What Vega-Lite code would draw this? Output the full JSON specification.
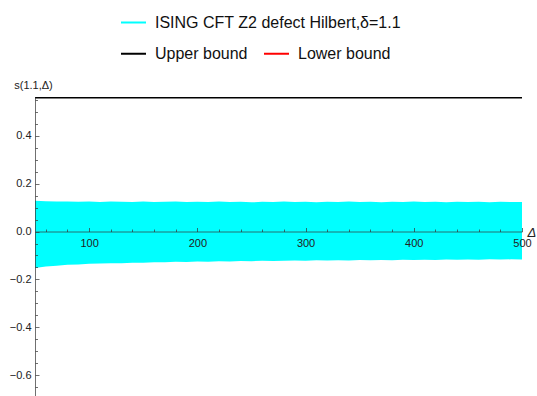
{
  "$schema": "https://vega.github.io/schema/vega-lite/v6.json",
  "width": 487,
  "height": 299,
  "autosize": "none",
  "padding": {"left": 35, "top": 97, "right": 15, "bottom": 0},
  "config": {
    "view": {"stroke": null},
    "font": "Liberation Sans",
    "axis": {"grid": false, "domainColor": "#333333", "domainOpacity": 0.7, "tickColor": "#333333", "tickOpacity": 0.7, "labelColor": "#222222", "labelFontSize": 11, "labelFont": "Liberation Sans", "titleFont": "Liberation Sans", "titleFontWeight": "normal", "titleColor": "#222222"},
    "legend": {"labelFont": "Liberation Sans", "labelFontSize": 16, "labelColor": "#111111", "padding": 0, "labelLimit": 500}
  },
  "encoding": {
    "x": {
      "field": "d", "type": "quantitative",
      "scale": {"domain": [50, 500], "nice": false, "zero": false},
      "axis": {
        "orient": "bottom", "offset": -164.5, "zindex": 2,
        "values": [60, 80, 100, 120, 140, 160, 180, 200, 220, 240, 260, 280, 300, 320, 340, 360, 380, 400, 420, 440, 460, 480, 500],
        "labelExpr": "datum.value % 100 === 0 ? datum.label : ''",
        "labelOverlap": false,
        "tickSize": {"condition": {"test": "datum.value % 100 === 0", "value": -4}, "value": -2.5},
        "labelPadding": 10, "labelFlush": false,
        "title": "Δ", "titleFontStyle": "italic", "titleFontSize": 13,
        "titleX": 492, "titleY": 1, "titleAlign": "left", "titleBaseline": "middle", "titleAngle": 0
      }
    },
    "y": {
      "field": "v", "type": "quantitative",
      "scale": {"domain": [-0.687, 0.562], "nice": false, "zero": false},
      "axis": {
        "orient": "left", "zindex": 2,
        "values": [-0.65, -0.6, -0.55, -0.5, -0.45, -0.4, -0.35, -0.3, -0.25, -0.2, -0.15, -0.1, -0.05, 0, 0.05, 0.1, 0.15, 0.2, 0.25, 0.3, 0.35, 0.4, 0.45, 0.5, 0.55],
        "labelExpr": "abs(round(datum.value*100)) % 20 === 0 ? format(datum.value, '.1f') : ''",
        "labelOverlap": false,
        "tickSize": {"condition": {"test": "abs(round(datum.value*100)) % 20 === 0", "value": -4}, "value": -2.5},
        "labelPadding": 8, "labelFlush": false,
        "title": "s(1.1,Δ)", "titleFontSize": 11,
        "titleX": -2, "titleY": -12, "titleAlign": "center", "titleBaseline": "middle", "titleAngle": 0
      }
    }
  },
  "layer": [
    {
      "data": {"values": [
        {"d": 50, "v": 0.129, "v2": -0.152},
        {"d": 60, "v": 0.127, "v2": -0.146},
        {"d": 70, "v": 0.125, "v2": -0.143},
        {"d": 80, "v": 0.126, "v2": -0.139},
        {"d": 90, "v": 0.124, "v2": -0.138},
        {"d": 100, "v": 0.125, "v2": -0.135},
        {"d": 110, "v": 0.123, "v2": -0.134},
        {"d": 120, "v": 0.125, "v2": -0.132},
        {"d": 130, "v": 0.124, "v2": -0.132},
        {"d": 140, "v": 0.123, "v2": -0.130},
        {"d": 150, "v": 0.125, "v2": -0.130},
        {"d": 160, "v": 0.123, "v2": -0.128},
        {"d": 170, "v": 0.124, "v2": -0.128},
        {"d": 180, "v": 0.125, "v2": -0.126},
        {"d": 190, "v": 0.123, "v2": -0.127},
        {"d": 200, "v": 0.124, "v2": -0.125},
        {"d": 210, "v": 0.123, "v2": -0.126},
        {"d": 220, "v": 0.125, "v2": -0.124},
        {"d": 230, "v": 0.123, "v2": -0.125},
        {"d": 240, "v": 0.124, "v2": -0.123},
        {"d": 250, "v": 0.122, "v2": -0.124},
        {"d": 260, "v": 0.124, "v2": -0.122},
        {"d": 270, "v": 0.123, "v2": -0.123},
        {"d": 280, "v": 0.125, "v2": -0.122},
        {"d": 290, "v": 0.123, "v2": -0.121},
        {"d": 300, "v": 0.124, "v2": -0.122},
        {"d": 310, "v": 0.122, "v2": -0.120},
        {"d": 320, "v": 0.124, "v2": -0.121},
        {"d": 330, "v": 0.123, "v2": -0.120},
        {"d": 340, "v": 0.125, "v2": -0.121},
        {"d": 350, "v": 0.123, "v2": -0.119},
        {"d": 360, "v": 0.124, "v2": -0.120},
        {"d": 370, "v": 0.122, "v2": -0.119},
        {"d": 380, "v": 0.124, "v2": -0.120},
        {"d": 390, "v": 0.123, "v2": -0.118},
        {"d": 400, "v": 0.125, "v2": -0.119},
        {"d": 410, "v": 0.123, "v2": -0.118},
        {"d": 420, "v": 0.124, "v2": -0.119},
        {"d": 430, "v": 0.122, "v2": -0.117},
        {"d": 440, "v": 0.124, "v2": -0.118},
        {"d": 450, "v": 0.123, "v2": -0.117},
        {"d": 460, "v": 0.124, "v2": -0.118},
        {"d": 470, "v": 0.122, "v2": -0.116},
        {"d": 480, "v": 0.124, "v2": -0.117},
        {"d": 490, "v": 0.123, "v2": -0.116},
        {"d": 500, "v": 0.123, "v2": -0.117}
      ]},
      "mark": {"type": "area", "clip": true, "opacity": 1},
      "encoding": {
        "y2": {"field": "v2"},
        "fill": {
          "datum": "ISING CFT Z2 defect Hilbert,δ=1.1", "type": "nominal",
          "scale": {"range": ["#00ffff"]},
          "legend": {
            "title": null, "orient": "none", "legendX": 85, "legendY": -88,
            "symbolType": "stroke", "symbolStrokeColor": "#00ffff", "symbolStrokeWidth": 2, "symbolSize": 625,
            "labelOffset": 8
          }
        }
      }
    },
    {
      "data": {"values": [
        {"d": 50, "v": 0.56, "s": "Upper bound"},
        {"d": 500, "v": 0.56, "s": "Upper bound"},
        {"d": 50, "v": -0.9, "s": "Lower bound"},
        {"d": 500, "v": -0.9, "s": "Lower bound"}
      ]},
      "mark": {"type": "line", "clip": true, "strokeWidth": 2},
      "encoding": {
        "stroke": {
          "field": "s", "type": "nominal",
          "scale": {"domain": ["Upper bound", "Lower bound"], "range": ["#000000", "#ff0000"]},
          "legend": {
            "title": null, "orient": "none", "legendX": 85, "legendY": -57, "direction": "horizontal",
            "symbolType": "stroke", "symbolStrokeWidth": 2, "symbolSize": 625,
            "labelOffset": 8, "columnPadding": 12
          }
        }
      }
    }
  ]
}
